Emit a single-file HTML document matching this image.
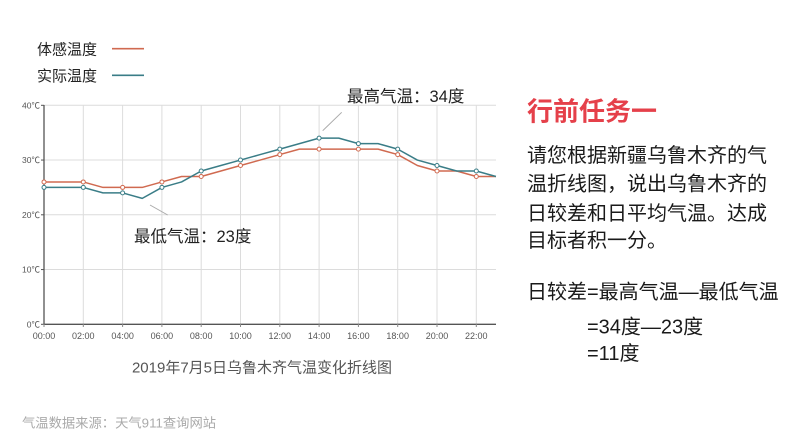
<!DOCTYPE html>
<html><head><meta charset="utf-8">
<style>
html,body{margin:0;padding:0;background:#fff;}
body{width:794px;height:447px;position:relative;overflow:hidden;font-family:"Liberation Sans","Noto Sans CJK SC",sans-serif;}
</style></head>
<body>
<svg width="794" height="447" style="position:absolute;left:0;top:0" xmlns="http://www.w3.org/2000/svg">
  <g font-family="Liberation Sans, Noto Sans CJK SC, sans-serif">
  <!-- legend -->
  <text x="37" y="54.5" font-size="15" fill="#222">体感温度</text>
  <line x1="112" y1="48.7" x2="144" y2="48.7" stroke="#d06a50" stroke-width="1.6"/>
  <text x="37" y="81" font-size="15" fill="#222">实际温度</text>
  <line x1="112" y1="75.3" x2="144" y2="75.3" stroke="#3a7d87" stroke-width="1.6"/>

  <!-- horizontal grid -->
  <g stroke="#dcdcdc" stroke-width="1">
    <line x1="44" y1="105.3" x2="496" y2="105.3"/>
    <line x1="44" y1="160.05" x2="496" y2="160.05"/>
    <line x1="44" y1="214.8" x2="496" y2="214.8"/>
    <line x1="44" y1="269.55" x2="496" y2="269.55"/>
  </g>
  <!-- vertical grid -->
  <g stroke="#dcdcdc" stroke-width="1">
    <line x1="83.3" y1="105" x2="83.3" y2="324"/>
    <line x1="122.6" y1="105" x2="122.6" y2="324"/>
    <line x1="161.9" y1="105" x2="161.9" y2="324"/>
    <line x1="201.2" y1="105" x2="201.2" y2="324"/>
    <line x1="240.5" y1="105" x2="240.5" y2="324"/>
    <line x1="279.8" y1="105" x2="279.8" y2="324"/>
    <line x1="319.1" y1="105" x2="319.1" y2="324"/>
    <line x1="358.4" y1="105" x2="358.4" y2="324"/>
    <line x1="397.7" y1="105" x2="397.7" y2="324"/>
    <line x1="437" y1="105" x2="437" y2="324"/>
    <line x1="476.3" y1="105" x2="476.3" y2="324"/>
  </g>
  <!-- axes -->
  <line x1="44" y1="105" x2="44" y2="324.5" stroke="#555" stroke-width="1.3"/>
  <line x1="44" y1="324.3" x2="496" y2="324.3" stroke="#555" stroke-width="1.3"/>
  <g stroke="#555" stroke-width="1">
    <line x1="41" y1="105.3" x2="44" y2="105.3"/>
    <line x1="41" y1="160.05" x2="44" y2="160.05"/>
    <line x1="41" y1="214.8" x2="44" y2="214.8"/>
    <line x1="41" y1="269.55" x2="44" y2="269.55"/>
    <line x1="41" y1="324.3" x2="44" y2="324.3"/>
  </g>
  <g stroke="#888" stroke-width="1">
    <line x1="44" y1="324" x2="44" y2="327"/>
    <line x1="83.3" y1="324" x2="83.3" y2="327"/>
    <line x1="122.6" y1="324" x2="122.6" y2="327"/>
    <line x1="161.9" y1="324" x2="161.9" y2="327"/>
    <line x1="201.2" y1="324" x2="201.2" y2="327"/>
    <line x1="240.5" y1="324" x2="240.5" y2="327"/>
    <line x1="279.8" y1="324" x2="279.8" y2="327"/>
    <line x1="319.1" y1="324" x2="319.1" y2="327"/>
    <line x1="358.4" y1="324" x2="358.4" y2="327"/>
    <line x1="397.7" y1="324" x2="397.7" y2="327"/>
    <line x1="437" y1="324" x2="437" y2="327"/>
    <line x1="476.3" y1="324" x2="476.3" y2="327"/>
  </g>
  <!-- y labels -->
  <g font-size="8.5" fill="#555" text-anchor="end">
    <text x="40" y="108.3">40℃</text>
    <text x="40" y="163">30℃</text>
    <text x="40" y="217.8">20℃</text>
    <text x="40" y="272.5">10℃</text>
    <text x="40" y="327.3">0℃</text>
  </g>
  <!-- x labels -->
  <g font-size="9" fill="#555" text-anchor="middle">
    <text x="44" y="339.2">00:00</text>
    <text x="83.3" y="339.2">02:00</text>
    <text x="122.6" y="339.2">04:00</text>
    <text x="161.9" y="339.2">06:00</text>
    <text x="201.2" y="339.2">08:00</text>
    <text x="240.5" y="339.2">10:00</text>
    <text x="279.8" y="339.2">12:00</text>
    <text x="319.1" y="339.2">14:00</text>
    <text x="358.4" y="339.2">16:00</text>
    <text x="397.7" y="339.2">18:00</text>
    <text x="437" y="339.2">20:00</text>
    <text x="476.3" y="339.2">22:00</text>
  </g>

  <!-- red series -->
  <polyline fill="none" stroke="#d06a50" stroke-width="1.5" stroke-linejoin="round"
    points="44,181.95 63.65,181.95 83.3,181.95 102.95,187.43 122.6,187.43 142.25,187.43 161.9,181.95 181.55,176.48 201.2,176.48 220.85,171 240.5,165.53 260.15,160.05 279.8,154.58 299.45,149.1 319.1,149.1 338.75,149.1 358.4,149.1 378.05,149.1 397.7,154.58 417.35,165.53 437,171 456.65,171 476.3,176.48 495.95,176.48"/>
  <!-- teal series -->
  <polyline fill="none" stroke="#3a7d87" stroke-width="1.5" stroke-linejoin="round"
    points="44,187.43 63.65,187.43 83.3,187.43 102.95,192.9 122.6,192.9 142.25,198.38 161.9,187.43 181.55,181.95 201.2,171 220.85,165.53 240.5,160.05 260.15,154.58 279.8,149.1 299.45,143.63 319.1,138.15 338.75,138.15 358.4,143.63 378.05,143.63 397.7,149.1 417.35,160.05 437,165.53 456.65,171 476.3,171 495.95,176.48"/>
  <!-- markers -->
  <g fill="#fff" stroke="#d06a50" stroke-width="1">
    <circle cx="44" cy="181.95" r="2"/>
    <circle cx="83.3" cy="181.95" r="2"/>
    <circle cx="122.6" cy="187.43" r="2"/>
    <circle cx="161.9" cy="181.95" r="2"/>
    <circle cx="201.2" cy="176.48" r="2"/>
    <circle cx="240.5" cy="165.53" r="2"/>
    <circle cx="279.8" cy="154.58" r="2"/>
    <circle cx="319.1" cy="149.1" r="2"/>
    <circle cx="358.4" cy="149.1" r="2"/>
    <circle cx="397.7" cy="154.58" r="2"/>
    <circle cx="437" cy="171" r="2"/>
    <circle cx="476.3" cy="176.48" r="2"/>
  </g>
  <g fill="#fff" stroke="#3a7d87" stroke-width="1">
    <circle cx="44" cy="187.43" r="2"/>
    <circle cx="83.3" cy="187.43" r="2"/>
    <circle cx="122.6" cy="192.9" r="2"/>
    <circle cx="161.9" cy="187.43" r="2"/>
    <circle cx="201.2" cy="171" r="2"/>
    <circle cx="240.5" cy="160.05" r="2"/>
    <circle cx="279.8" cy="149.1" r="2"/>
    <circle cx="319.1" cy="138.15" r="2"/>
    <circle cx="358.4" cy="143.63" r="2"/>
    <circle cx="397.7" cy="149.1" r="2"/>
    <circle cx="437" cy="165.53" r="2"/>
    <circle cx="476.3" cy="171" r="2"/>
  </g>

  <!-- annotations -->
  <line x1="322.7" y1="130.7" x2="341.7" y2="112.3" stroke="#aaa" stroke-width="1"/>
  <text x="347" y="102" font-size="16.5" fill="#222">最高气温：34度</text>
  <line x1="150" y1="205" x2="167.7" y2="215" stroke="#aaa" stroke-width="1"/>
  <text x="134" y="242" font-size="16.5" fill="#222">最低气温：23度</text>

  <!-- title & source -->
  <text x="262" y="372.5" font-size="15" fill="#555" text-anchor="middle">2019年7月5日乌鲁木齐气温变化折线图</text>
  <text x="22" y="427.5" font-size="13.3" fill="#aaa">气温数据来源：天气911查询网站</text>

  <!-- right panel -->
  <text x="527" y="120.5" font-size="26" font-weight="bold" fill="#e5404a">行前任务一</text>
  <g font-size="20" fill="#1a1a1a">
    <text x="527" y="162">请您根据新疆乌鲁木齐的气</text>
    <text x="527" y="190.5">温折线图，说出乌鲁木齐的</text>
    <text x="527" y="220">日较差和日平均气温。达成</text>
    <text x="527" y="247">目标者积一分。</text>
    <text x="527" y="298.5">日较差=最高气温—最低气温</text>
    <text x="587" y="333.5">=34度—23度</text>
    <text x="587" y="360">=11度</text>
  </g>
  </g>
</svg>
</body></html>
